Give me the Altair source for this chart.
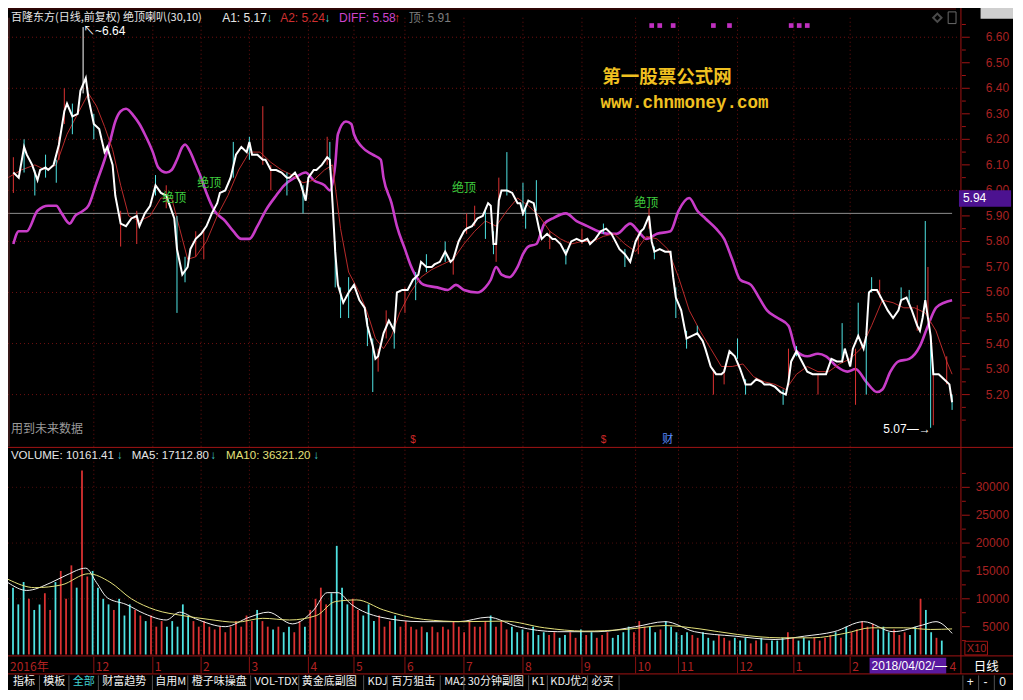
import altair as alt
import pandas as pd
import numpy as np

W, H = 1005, 682
SX, SY = W / 1023, H / 700
def X(v): return round(v * SX, 2)
def Y(v): return round(v * SY, 2)

F_UI = "Liberation Sans, Noto Sans CJK SC, sans-serif"
F_CJK = "Noto Sans CJK SC, Liberation Sans, sans-serif"
RED, CYAN = "#dc3232", "#4fe3e3"

# ---------------- data ----------------
close_day = [2,4,6,7,9,11,12,14,15,17, 19,21,22,24,26,27,29,30,32,34,
             36,37,39,40,42,44,46,48,49,51, 53,55,57,59,60,62,63,65,67,68,
             70,72,74,76,78,79,81,83,85,87, 89,90,91,93,95,96,98,100,102,104,
             105,107,109,111,112,114,115,117,119,
             120,121,122,123,125,127,129,131,133,134, 136,137,138,140,142,144,145,147,149,151,
             153,154,156,158,159,161,163,165,166,168, 170,171,173,175,177,179,180,181,182,183,
             184,186,188,190,191,192,194,196,198,199, 201,203,204,206,208,210,212,214,216,217,
             219,221,223,225,226,228,230,232,234,236, 237,
             239,240,241,243,245,247,248,249,251,253, 255,257,259,260,262,264,266,267,269,271,
             273,275,277,279,281,282,284,286,288,290, 291,292,294,296,298,300,302,304,305,307,
             309,311,312,314,315,317,319,320,321,322, 324,326,328,330,332,333,335,337,339,340,
             341,342,344,345,347,349,351,352]
close_val = [6.07,6.05,6.17,6.14,6.10,6.04,6.08,6.09,6.08,6.10, 6.18,6.31,6.34,6.29,6.30,6.39,6.44,6.36,6.26,6.24,
             6.15,6.17,6.10,5.98,5.87,5.86,5.89,5.90,5.86,5.91, 5.94,6.02,5.99,5.98,5.95,5.89,5.77,5.67,5.70,5.77,
             5.81,5.83,5.86,5.91,5.95,5.99,6.00,6.05,6.14,6.17, 6.15,6.19,6.14,6.14,6.12,6.12,6.08,6.08,6.07,6.05,
             6.05,6.07,6.03,5.96,6.05,6.08,6.08,6.10,6.13,
             6.12,5.95,5.76,5.63,5.56,5.60,5.63,5.57,5.54,5.47, 5.39,5.34,5.35,5.44,5.49,5.45,5.60,5.61,5.61,5.65,
             5.67,5.72,5.70,5.70,5.71,5.72,5.76,5.72,5.73,5.80, 5.84,5.85,5.86,5.89,5.90,5.95,5.94,5.79,5.79,5.96,
             6.00,6.00,5.99,5.95,5.95,5.91,5.96,5.95,5.85,5.81, 5.83,5.81,5.81,5.79,5.75,5.80,5.81,5.80,5.81,5.79,
             5.81,5.84,5.85,5.83,5.81,5.77,5.75,5.72,5.80,5.84, 5.85,
             5.90,5.80,5.76,5.77,5.76,5.76,5.66,5.58,5.53,5.42, 5.43,5.44,5.41,5.38,5.31,5.28,5.28,5.29,5.37,5.35,
             5.30,5.24,5.24,5.26,5.25,5.24,5.24,5.23,5.21,5.20, 5.25,5.33,5.37,5.33,5.29,5.28,5.28,5.28,5.28,5.34,
             5.33,5.33,5.38,5.31,5.38,5.43,5.38,5.43,5.60,5.61, 5.61,5.57,5.53,5.50,5.53,5.57,5.58,5.53,5.47,5.45,
             5.50,5.57,5.43,5.28,5.28,5.26,5.24,5.17]

ma_day = [0,5,10,14,18,22,26,30,33,36, 39,42,45,49,53,57,61,64,67,70,
          74,78,82,86,90,94,98,102,106,110, 114,118,121,124,127,131,134,137,140,143,
          146,150,154,158,162,166,170,174,178,182, 186,190,194,198,202,206,210,214,218,222,
          226,230,234,238,242,246,250,254,258,262, 266,270,274,278,282,286,290,294,298,302,
          306,310,314,318,322,326,330,334,338,342, 346,350,352]
ma_val = [6.05,6.08,6.10,6.08,6.10,6.22,6.30,6.38,6.33,6.25, 6.16,6.02,5.90,5.88,5.90,5.97,5.97,5.85,5.73,5.74,
          5.80,5.90,5.98,6.08,6.15,6.15,6.11,6.08,6.06,6.03, 6.04,6.08,6.10,5.85,5.68,5.60,5.52,5.42,5.38,5.43,
          5.52,5.60,5.66,5.69,5.71,5.73,5.79,5.84,5.88,5.86, 5.92,5.97,5.94,5.90,5.84,5.81,5.79,5.80,5.80,5.82,
          5.83,5.79,5.76,5.82,5.81,5.77,5.66,5.53,5.45,5.38, 5.31,5.31,5.32,5.27,5.25,5.24,5.22,5.28,5.31,5.29,
          5.29,5.32,5.34,5.38,5.47,5.57,5.56,5.54,5.54,5.52, 5.45,5.33,5.28]

diff_day = [2,4,7,11,15,18,20,23,25,28, 30,33,36,38,40,42,44,47,49,51,
            54,56,59,61,63,65,66,68,70,72, 74,77,81,84,87,90,93,96,100,103,
            107,111,114,118,120,122,123,126,128,129, 132,136,139,140,143,145,148,150,153,155,
            160,164,167,170,175,178,180,182,184,187, 190,192,194,197,200,203,208,212,216,220,
            224,227,232,235,238,242,247,250,254,257, 260,264,267,270,273,277,280,283,287,291,
            294,298,302,305,309,313,316,320,324,326, 329,332,336,340,343,346,349,352]
diff_val = [5.79,5.84,5.84,5.92,5.94,5.94,5.91,5.87,5.90,5.92, 5.94,6.03,6.12,6.19,6.27,6.31,6.32,6.29,6.26,6.22,
            6.15,6.09,6.07,6.08,6.12,6.17,6.18,6.15,6.10,6.05, 5.99,5.92,5.88,5.84,5.81,5.81,5.86,5.92,5.98,6.02,
            6.05,6.07,6.04,6.02,6.00,6.10,6.22,6.27,6.26,6.22, 6.17,6.14,6.12,6.05,5.95,5.86,5.77,5.71,5.65,5.63,
            5.62,5.61,5.63,5.61,5.60,5.62,5.65,5.70,5.67,5.66, 5.70,5.75,5.78,5.79,5.87,5.89,5.91,5.88,5.86,5.84,
            5.83,5.83,5.87,5.84,5.81,5.83,5.84,5.92,5.97,5.92, 5.89,5.85,5.81,5.73,5.65,5.63,5.58,5.53,5.50,5.47,
            5.37,5.35,5.36,5.35,5.31,5.29,5.30,5.25,5.21,5.22, 5.29,5.33,5.34,5.39,5.47,5.54,5.56,5.57]

wick_day = [2,6,10,14,18,19,21,24,28,32, 42,48,55,59,63,66,70,73,84,90,
            95,98,104,110,119,120,122,124,127,134, 136,138,141,144,148,152,156,163,166,171,
            174,178,181,182,183,186,192,193,197,202, 208,214,222,230,235,239,241,249,253,257,
            263,267,272,275,289,291,294,302,311,316, 317,320,322,325,333,336,339,342,343,344,
            345,350,352]
wick_low = [5.99,6.07,5.98,6.05,6.03,6.12,6.26,6.22,6.38,6.20, 5.78,5.79,5.98,5.93,5.52,5.64,5.74,5.73,6.05,6.12,
            6.10,6.00,5.98,5.91,6.10,6.08,5.62,5.50,5.50,5.39, 5.21,5.29,5.42,5.38,5.52,5.57,5.68,5.72,5.67,5.83,
            5.86,5.81,5.75,5.72,5.94,5.98,5.90,5.85,5.92,5.77, 5.71,5.79,5.83,5.70,5.75,5.85,5.73,5.50,5.38,5.44,
            5.20,5.24,5.34,5.20,5.16,5.25,5.35,5.20,5.33,5.16, 5.43,5.20,5.60,5.58,5.57,5.56,5.45,5.55,5.50,5.07,
            5.08,5.24,5.14]
wick_high = [6.13,6.20,6.08,6.14,6.12,6.21,6.40,6.34,6.64,6.30, 5.92,5.92,6.06,6.02,5.90,5.74,5.84,5.85,6.19,6.21,
             6.33,6.10,6.07,6.02,6.21,6.19,5.80,5.62,5.66,5.50, 5.42,5.38,5.53,5.48,5.62,5.68,5.75,5.80,5.74,5.91,
             5.94,5.92,5.84,5.80,6.05,6.15,6.03,5.94,6.04,5.84, 5.77,5.85,5.87,5.77,5.83,5.93,5.78,5.62,5.45,5.47,
             5.30,5.30,5.42,5.26,5.22,5.38,5.39,5.28,5.48,5.38, 5.56,5.43,5.66,5.65,5.62,5.61,5.55,5.88,5.70,5.43,
             5.30,5.35,5.20]
wick_kind = list("rccccrrcwc" "rrcrccrrcc" "rrccrccccc" "crrcrcccrr" "rccrrccccr"
                 "crccrrcccc" "rrcccrcrcr" "cccrccrcrc" "rrc")

vol_day = list(range(0, 352, 2))
vol_k = [12, 9, 13, 10, 8, 9, 11, 8,
         13, 15, 10, 16, 12, 33, 14, 15,
         12, 10, 9, 8, 10, 7, 9, 8,
         7, 6, 7, 5, 6, 5, 6, 5,
         9, 7, 6, 5, 6, 5, 4.5, 5,
         4, 5, 6, 5, 7, 6, 8, 6,
         5, 4.5, 5, 4, 5, 4, 6, 5,
         8, 10, 12, 9, 11, 19.5, 12, 9,
         10, 8, 7, 9, 6, 7, 5, 6,
         7, 5, 6, 5, 4.5, 5, 4, 5,
         4, 5, 4.5, 6, 5, 4, 6, 5,
         5, 6, 7, 5, 6, 4.5, 5, 4,
         4.5, 4, 5, 3.5, 4, 3.5, 4, 3,
         3.5, 4, 3, 4.5, 3.5, 4, 3, 3.5,
         4, 3, 3.5, 4, 5, 4, 6, 5,
         5, 4, 4.5, 6, 5, 4, 3.5, 4,
         3.5, 3, 4, 3, 2.5, 3.5, 3, 2.5,
         3, 2.5, 3, 2, 2.5, 3, 2, 2.5,
         2.5, 3, 4, 3, 2.5, 3, 2.5, 3,
         2.5, 3, 3.5, 4, 3, 5, 4, 4.5,
         6, 5, 5.5, 4.5, 5, 4, 4.5, 3.5,
         4, 3.5, 5, 10, 8, 4, 3, 2.5]

vma5_day = [0,7,16,22,29,33,37,44,51,59, 64,70,81,90,97,106,114,119,123,128,
            139,154,168,179,190,205,220,234,245,256, 271,286,297,308,319,330,341,346,352]
vma5_val = [12.9,11.5,12.9,14.3,15.5,12.9,10.2,9.0,7.3,6.2, 7.6,6.4,5.0,6.7,7.6,5.5,8.0,11.1,11.1,9.0,
            6.7,5.9,5.9,6.7,5.0,4.1,4.1,5.0,5.9,4.1, 3.3,2.7,3.3,4.1,5.9,4.1,5.3,5.9,3.8]
vma10_day = [0,10,20,30,38,46,55,65,75,85, 95,105,115,122,130,140,155,170,185,200,
             215,230,245,258,272,288,300,312,322,334, 344,352]
vma10_val = [13.5,12,12.5,14.5,13,10,8,7,6.3,5.8, 6.5,6.2,7.0,9.5,9.8,8.0,6.3,5.9,6.0,4.8,
             4.2,4.5,5.2,4.6,3.6,3.0,3.0,3.8,4.8,4.8, 4.5,4.6]

month_day = [0, 32, 54, 72, 90, 112, 129, 148, 170, 192, 214, 234, 250, 272, 293, 314]
month_lab = ["2016年", "12", "1", "2", "3", "4", "5", "6", "7", "8", "9", "10", "11", "12", "1", "2"]

price_ticks = [6.6, 6.5, 6.4, 6.3, 6.2, 6.1, 6.0, 5.9, 5.8, 5.7, 5.6, 5.5, 5.4, 5.3, 5.2]
price_minor = [6.65, 6.55, 6.45, 6.35, 6.25, 6.15, 6.05, 5.95, 5.85, 5.75, 5.65, 5.55, 5.45, 5.35, 5.25, 5.15, 5.1]
grid_prices = [6.6, 6.4, 6.2, 6.0, 5.8, 5.6, 5.4, 5.2]
vol_ticks = [30000, 25000, 20000, 15000, 10000, 5000]
vol_minor = [32500, 27500, 22500, 17500, 12500, 7500, 2500]

top_day = [62, 75, 170, 238]
top_price = [5.97, 6.03, 6.01, 5.95]
signal_day = [240, 243, 248, 263, 269, 292, 295, 298]
line_591 = 5.91

# ---------------- scales ----------------
XS = alt.Scale(domain=[0, 352], range=[0, X(961)], nice=False, zero=False)
PS = alt.Scale(domain=[5.0, 6.676], range=[Y(449.2), Y(10.1)], nice=False, zero=False)
VS = alt.Scale(domain=[0, 36500], range=[Y(663.6), Y(454.8)], nice=False, zero=False)

def xq(f="d"): return alt.X(f"{f}:Q", scale=XS, axis=None)
def yp(f="p"): return alt.Y(f"{f}:Q", scale=PS, axis=None)
def yv(f="v"): return alt.Y(f"{f}:Q", scale=VS, axis=None)

one = pd.DataFrame({"a": [0]})

def prule(x1, y1, x2, y2, color, w=1.0, dash=None):
    kw = dict(color=color, strokeWidth=w)
    if dash:
        kw["strokeDash"] = dash
    return alt.Chart(one).mark_rule(**kw).encode(
        x=alt.value(X(x1)), x2=alt.value(X(x2)), y=alt.value(Y(y1)), y2=alt.value(Y(y2)))

def prect(x1, y1, x2, y2, fill=None, stroke=None):
    kw = {}
    if fill:
        kw["color"] = fill
    else:
        kw["fillOpacity"] = 0
        kw["fill"] = "#000000"
    if stroke:
        kw["stroke"] = stroke
        kw["strokeWidth"] = 1
    return alt.Chart(one).mark_rect(**kw).encode(
        x=alt.value(X(x1)), x2=alt.value(X(x2)), y=alt.value(Y(y1)), y2=alt.value(Y(y2)))

def ptext(items, size=12, font=F_UI, align="left", baseline="middle", weight="normal"):
    df = pd.DataFrame({"t": [i[0] for i in items], "px": [X(i[1]) for i in items],
                       "py": [Y(i[2]) for i in items], "c": [i[3] for i in items]})
    return alt.Chart(df).mark_text(align=align, baseline=baseline, fontSize=size, font=font,
                                   fontWeight=weight).encode(
        text="t:N", x=alt.X("px:Q", scale=None, axis=None), y=alt.Y("py:Q", scale=None, axis=None),
        color=alt.Color("c:N", scale=None))

layers = []

# grids
layers.append(alt.Chart(pd.DataFrame({"p": grid_prices})).mark_rule(color="#6e1010", strokeDash=[1, 3]).encode(
    y=yp(), x=alt.value(0), x2=alt.value(X(969))))
layers.append(alt.Chart(pd.DataFrame({"d": month_day[1:]})).mark_rule(color="#6e1010", strokeDash=[1, 3]).encode(
    x=xq(), y=alt.value(Y(10)), y2=alt.value(Y(664))))
layers.append(alt.Chart(pd.DataFrame({"v": [10000, 20000, 30000]})).mark_rule(color="#4a0c0c", strokeDash=[1, 3]).encode(
    y=yv(), x=alt.value(0), x2=alt.value(X(969))))

# volume bars: colour from the direction of the last close sample before each bar
idx = np.searchsorted(np.array(close_day), np.array(vol_day), side="right") - 1
idx = np.clip(idx, 1, len(close_val) - 1)
up = [close_val[i] >= close_val[i - 1] for i in idx]
vol_df = pd.DataFrame({"d": vol_day, "v": [k * 1000 for k in vol_k], "z": 0,
                       "c": [RED if u else CYAN for u in up]})
layers.append(alt.Chart(vol_df).mark_bar(width=X(1.8)).encode(
    x=xq(), y=yv(), y2=alt.Y2("z:Q"), color=alt.Color("c:N", scale=None)))
layers.append(alt.Chart(pd.DataFrame({"d": vma5_day, "v": [k * 1000 for k in vma5_val]})).mark_line(
    color="#f0f0f0", strokeWidth=1, interpolate="monotone").encode(x=xq(), y=yv()))
layers.append(alt.Chart(pd.DataFrame({"d": vma10_day, "v": [k * 1000 for k in vma10_val]})).mark_line(
    color="#e4e07a", strokeWidth=1, interpolate="monotone").encode(x=xq(), y=yv()))

# price panel
layers.append(alt.Chart(pd.DataFrame({"p": [line_591]})).mark_rule(color="#8e8e8e", strokeWidth=1).encode(
    y=yp(), x=alt.value(0), x2=alt.value(X(961))))
layers.append(alt.Chart(pd.DataFrame({"d": diff_day, "p": diff_val})).mark_line(
    color="#c83cc8", strokeWidth=2.6, interpolate="monotone").encode(x=xq(), y=yp()))
layers.append(alt.Chart(pd.DataFrame({"d": ma_day, "p": ma_val})).mark_line(
    color="#b82a2a", strokeWidth=1).encode(x=xq(), y=yp()))
kind_col = {"r": RED, "c": CYAN, "w": "#ffffff"}
wick_df = pd.DataFrame({"d": wick_day, "lo": wick_low, "hi": wick_high, "c": [kind_col[k] for k in wick_kind]})
layers.append(alt.Chart(wick_df).mark_rule(strokeWidth=1).encode(
    x=xq(), y=yp("lo"), y2=alt.Y2("hi:Q"), color=alt.Color("c:N", scale=None)))
layers.append(alt.Chart(pd.DataFrame({"d": close_day, "p": close_val})).mark_line(
    color="#ffffff", strokeWidth=2).encode(x=xq(), y=yp()))

# annotations on data coordinates
layers.append(alt.Chart(pd.DataFrame({"d": top_day, "p": top_price, "t": ["绝顶"] * 4})).mark_text(
    color="#3fcf3f", fontSize=12, font=F_CJK).encode(x=xq(), y=yp(), text="t:N"))
layers.append(alt.Chart(pd.DataFrame({"d": [28], "p": [6.625], "t": ["↖~6.64"]})).mark_text(
    color="#ffffff", fontSize=12, font=F_UI, align="left").encode(x=xq(), y=yp(), text="t:N"))
layers.append(alt.Chart(pd.DataFrame({"d": [344], "p": [5.065], "t": ["5.07—→"]})).mark_text(
    color="#ffffff", fontSize=12, font=F_UI, align="right").encode(x=xq(), y=yp(), text="t:N"))
layers.append(alt.Chart(pd.DataFrame({"d": signal_day})).mark_point(
    shape="square", filled=True, color="#c030c0", size=22, opacity=1).encode(x=xq(), y=alt.value(Y(18))))
layers.append(alt.Chart(pd.DataFrame({"d": [151, 222], "t": ["$", "$"]})).mark_text(
    color="#d02828", fontSize=10, font=F_UI).encode(x=xq(), y=alt.value(Y(443)), text="t:N"))
layers.append(alt.Chart(pd.DataFrame({"d": [246], "t": ["财"]})).mark_text(
    color="#5a8cff", fontSize=11, font=F_CJK).encode(x=xq(), y=alt.value(Y(443)), text="t:N"))

# frame lines
BR = "#a01414"
layers += [prule(0, 451, 1023, 451, BR), prule(0, 665, 1023, 665, BR), prule(0, 683.5, 1023, 683.5, BR),
           prule(970, 0, 970, 683.5, BR), prule(0, 1, 965, 1, "#5a0a0a"), prule(1, 10, 1, 450, "#6a3030")]

# right axes
layers.append(alt.Chart(pd.DataFrame({"p": price_ticks})).mark_rule(color=BR).encode(
    y=yp(), x=alt.value(X(971)), x2=alt.value(X(979))))
layers.append(alt.Chart(pd.DataFrame({"p": price_minor})).mark_rule(color=BR).encode(
    y=yp(), x=alt.value(X(971)), x2=alt.value(X(975))))
layers.append(alt.Chart(pd.DataFrame({"p": price_ticks, "t": [f"{v:.2f}" for v in price_ticks]})).mark_text(
    color="#a82222", fontSize=12, font=F_UI, align="right").encode(y=yp(), x=alt.value(X(1019)), text="t:N"))
layers.append(alt.Chart(pd.DataFrame({"v": vol_ticks})).mark_rule(color=BR).encode(
    y=yv(), x=alt.value(X(971)), x2=alt.value(X(979))))
layers.append(alt.Chart(pd.DataFrame({"v": vol_minor})).mark_rule(color=BR).encode(
    y=yv(), x=alt.value(X(971)), x2=alt.value(X(975))))
layers.append(alt.Chart(pd.DataFrame({"v": vol_ticks, "t": [str(v) for v in vol_ticks]})).mark_text(
    color="#a82222", fontSize=12, font=F_UI, align="right").encode(y=yv(), x=alt.value(X(1019)), text="t:N"))

# 5.94 box
layers.append(prect(968, 187, 1021, 204, fill="#4c1290"))
layers.append(ptext([("5.94", 972, 195.5, "#ffffff")], size=12))

# date row
layers.append(alt.Chart(pd.DataFrame({"d": month_day[1:]})).mark_rule(color="#8a1010").encode(
    x=xq(), y=alt.value(Y(666)), y2=alt.value(Y(683))))
layers.append(alt.Chart(pd.DataFrame({"d": month_day, "t": month_lab})).mark_text(
    color="#b02222", fontSize=12, font=F_CJK, align="left", dx=2).encode(
    x=xq(), y=alt.value(Y(676)), text="t:N"))
layers.append(alt.Chart(pd.DataFrame({"d": [351], "t": ["4"]})).mark_text(
    color="#b02222", fontSize=12, font=F_UI, align="left").encode(x=xq(), y=alt.value(Y(676)), text="t:N"))
layers.append(prect(877, 667, 955, 683, fill="#5a1aa0"))
layers.append(ptext([("2018/04/02/—", 879, 675.5, "#ffffff")], size=12))
layers.append(ptext([("日线", 983, 676, "#ffffff")], size=12.5, font=F_CJK))

# X10 box
layers.append(prect(974, 650, 997, 664, stroke=BR))
layers.append(ptext([("X10", 976, 657.5, "#a82222")], size=11))

# headers
layers.append(ptext([("百隆东方(日线,前复权) 绝顶喇叭(30,10)", 3, 10, "#e6e6e6")], size=11, font=F_CJK))
layers.append(ptext([("A1: 5.17", 218, 10, "#e6e6e6"), ("↓", 263, 10, "#40d0d0"),
                     ("A2: 5.24", 277, 10, "#d03030"), ("↓", 322, 10, "#40d0d0"),
                     ("DIFF: 5.58", 337, 10, "#cc44cc"), ("↑", 393, 10, "#e03030"),
                     ("顶: 5.91", 408, 10, "#7c7c7c")], size=12, font=F_UI))
layers.append(ptext([("VOLUME: 10161.41", 3, 460, "#e6e6e6"), ("↓", 111, 460, "#40d0d0"),
                     ("MA5: 17112.80", 126, 460, "#e6e6e6"), ("↓", 206, 460, "#40d0d0"),
                     ("MA10: 36321.20", 222, 460, "#e4e07a"), ("↓", 311, 460, "#40d0d0")], size=11.5))
layers.append(ptext([("用到未来数据", 3, 432, "#9a9a9a")], size=12, font=F_CJK))

# watermark
layers.append(ptext([("第一股票公式网", 605, 71, "#f0c020")], size=18.5, font=F_CJK, weight="bold"))
layers.append(ptext([("www.chnmoney.com", 603, 97, "#f0c020")], size=17.5,
                    font="Liberation Mono, DejaVu Sans Mono, monospace", weight="bold"))

# top-right icons
layers.append(prect(990, 0, 1023, 11, fill="#cfcfcf"))
layers.append(prect(957, 4, 965, 16, stroke="#6a6a6a"))
layers.append(alt.Chart(one).mark_point(shape="diamond", color="#6a6a6a", size=70, filled=False).encode(
    x=alt.value(X(946)), y=alt.value(Y(10))))

# toolbar
tb = [("指标", 5), ("模板", 36), ("全部", 66), ("财富趋势", 96), ("自用M", 150), ("橙子味操盘", 187),
      ("VOL-TDX", 251), ("黄金底副图", 299), ("KDJ", 366), ("百万狙击", 390), ("MA2", 444),
      ("30分钟副图", 468), ("K1", 533), ("KDJ优2", 552), ("必买", 594)]
layers.append(ptext([(t, x, 692, "#40d0d0" if t == "全部" else "#f0f0f0") for t, x in tb], size=11, font=F_CJK))
for sx_ in [32, 62, 92, 147, 183, 247, 296, 362, 386, 440, 464, 530, 549, 590, 622, 972, 988, 1004]:
    layers.append(prule(sx_, 685, sx_, 700, "#505050"))
layers.append(ptext([("+", 976, 692, "#f0f0f0"), ("-", 993, 692, "#f0f0f0"), ("0", 1009, 692, "#f0f0f0")], size=12))

chart = alt.layer(*layers).resolve_scale(x="independent", y="independent", color="independent").properties(
    width=W, height=H, padding=0, background="#000000",
    autosize=alt.AutoSizeParams(type="none")).configure_view(stroke=None)

chart.save("out.html", embed_options={"renderer": "svg", "actions": False})
